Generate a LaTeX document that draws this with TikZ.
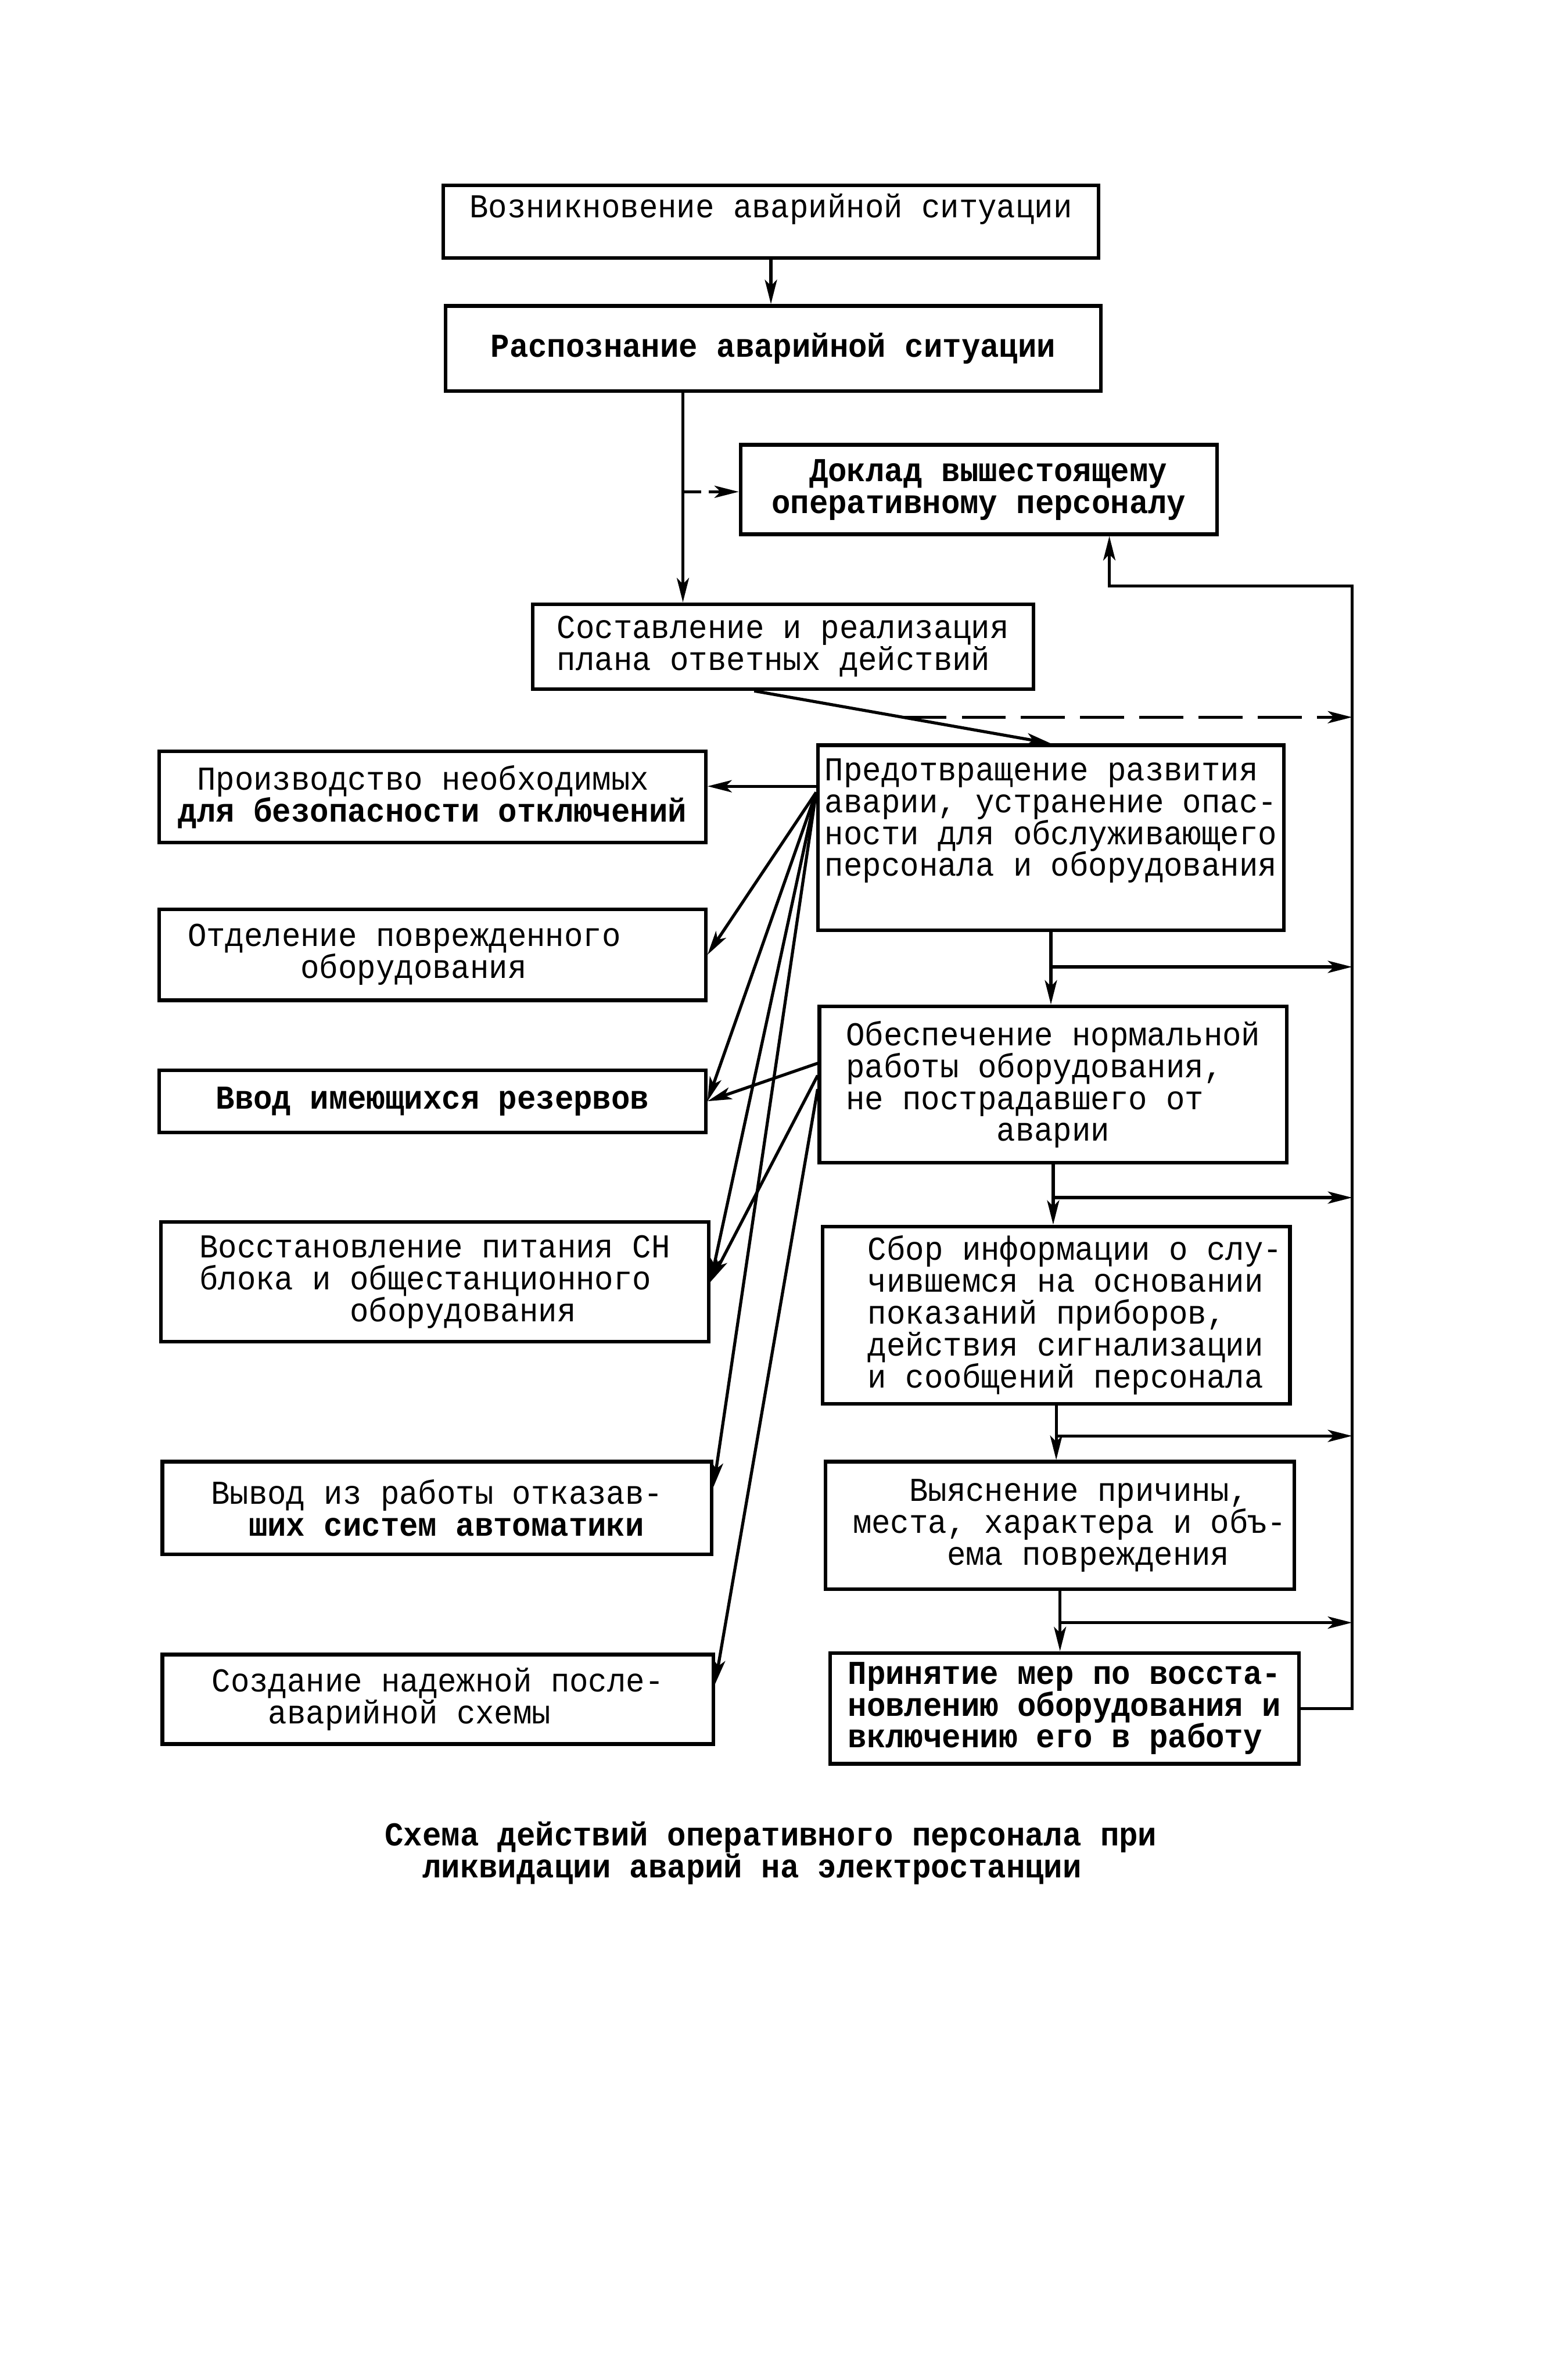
\documentclass[tikz,border=0pt]{standalone}
\usepackage{fontspec}
\newfontfamily\tw[FakeStretch=0.94]{Liberation Mono}
\usetikzlibrary{arrows.meta,calc}
\newcommand\spc{\phantom{0}}
\newcommand\twfont{\tw\fontsize{22}{21}\selectfont\lineskiplimit=-100pt\lineskip=0pt}
\begin{document}
\begin{tikzpicture}[x=1pt,y=-1pt,
  box/.style={draw,line width=2.4pt,inner sep=0pt,align=left,font=\twfont},
  conn/.style={line width=2pt},
  arr/.style={conn,-{Stealth[length=16pt,width=8pt,inset=4pt]}},
  dsh/.style={conn,dash pattern=on 29pt off 10pt,-{Stealth[length=16pt,width=8pt,inset=4pt]}},
]
\useasboundingbox (0,0) rectangle (1024,1568);
\fill[white] (0,0) rectangle (1024,1568);

% top chain
\node[box,minimum width=432pt,minimum height=48pt] (A) at (508,146)
  {Возникновение аварийной ситуации\\\mbox{}};
\node[box,minimum width=432pt,minimum height=56pt] (B) at (509.5,229.5)
  {\bfseries Распознание аварийной ситуации};
\node[box,minimum width=314pt,minimum height=59pt] (C) at (645,322.5)
  {\bfseries\spc\spc Доклад вышестоящему\\\bfseries оперативному персоналу};
\node[box,minimum width=330pt,minimum height=56pt] (D) at (516,426)
  {Составление и реализация\\плана ответных действий};

% right column
\node[box,minimum width=307pt,minimum height=122pt] (E) at (692.5,552)
  {Предотвращение развития\\аварии, устранение опас-\\ности для обслуживающего\\персонала и оборудования\\[6pt]\mbox{}};
\node[box,minimum width=308pt,minimum height=103pt] (F) at (694,714.5)
  {Обеспечение нормальной\\работы оборудования,\\не пострадавшего от\\\spc\spc\spc\spc\spc\spc\spc\spc аварии};
\node[box,minimum width=308pt,minimum height=117pt] (G) at (696,866.5)
  {\spc\spc Сбор информации о слу-\\\spc\spc чившемся на основании\\\spc\spc показаний приборов,\\\spc\spc действия сигнализации\\\spc\spc и сообщений персонала};
\node[box,minimum width=309pt,minimum height=84pt] (H) at (698.5,1005)
  {\spc\spc\spc\spc Выяснение причины,\\\spc места, характера и объ-\\\spc\spc\spc\spc\spc\spc ема повреждения};
\node[box,minimum width=309pt,minimum height=73pt] (I) at (701.5,1125.5)
  {\bfseries Принятие мер по восста-\\\bfseries новлению оборудования и\\\bfseries включению его в работу};

% left column
\node[box,minimum width=360pt,minimum height=60pt] (L1) at (285,525)
  {\spc Производство необходимых\\\bfseries для безопасности отключений};
\node[box,minimum width=360pt,minimum height=60pt] (L2) at (285,629)
  {Отделение поврежденного\spc\spc\spc\\\spc\spc\spc\spc\spc\spc оборудования};
\node[box,minimum width=360pt,minimum height=41pt] (L3) at (285,725.5)
  {\bfseries Ввод имеющихся резервов};
\node[box,minimum width=361pt,minimum height=79pt] (L4) at (286.5,844.5)
  {Восстановление питания СН\\блока и общестанционного\\\spc\spc\spc\spc\spc\spc\spc\spc оборудования};
\node[box,minimum width=362pt,minimum height=61pt] (L5) at (288,993.5)
  {Вывод из работы отказав-\\\bfseries\spc\spc ших систем автоматики};
\node[box,minimum width=363pt,minimum height=59pt] (L6) at (288.5,1119.5)
  {Создание надежной после-\\\spc\spc\spc аварийной схемы};

% caption
\node[font=\twfont,align=left,inner sep=0pt] (caption) at (508,1221)
  {\bfseries Схема действий оперативного персонала при\\\bfseries\spc\spc ликвидации аварий на электростанции};

% coordinates
\coordinate (xl) at (450,0);
\coordinate (cd) at (450,324);
\coordinate (cx) at (731,0);
\coordinate (bt) at (891,386);
\coordinate (r1) at (891,637);
\coordinate (r2) at (891,789);
\coordinate (r3) at (891,946);
\coordinate (r4) at (891,1069);
\coordinate (d1) at ([xshift=-19pt]D.south);
\coordinate (dm) at ($(d1)!0.5!(E.north)$);
\coordinate (eo) at ([yshift=30pt]E.west);
\coordinate (e1) at ([yshift=34pt]E.west);

% top connectors
\draw[arr] (A.south) -- (A.south |- B.north);
\draw[arr] (B.south -| xl) -- (D.north -| xl);
\draw[conn,dash pattern=on 12pt off 5pt on 40pt,-{Stealth[length=16pt,width=8pt,inset=4pt]}] (cd) -- (cd -| C.west);
\draw[arr] (d1) -- (E.north);
\draw[dsh] (dm) -- (dm -| bt);

% right column chain
\draw[arr] (E.south) -- (E.south |- F.north);
\draw[arr] (E.south |- r1) -- (r1);
\draw[arr] (F.south) -- (F.south |- G.north);
\draw[arr] (F.south |- r2) -- (r2);
\draw[arr] (G.south) -- (G.south |- H.north);
\draw[arr] (G.south |- r3) -- (r3);
\draw[arr] (H.south) -- (H.south |- I.north);
\draw[arr] (H.south |- r4) -- (r4);
\draw[arr] (I.east) -| (bt) -- (bt -| cx) -- (C.south -| cx);

% fan from E
\draw[arr] (e1) -- (e1 -| L1.east);
\draw[arr] (eo) -- (L2.east);
\draw[arr] (eo) -- (L3.east);
\draw[arr] (eo) -- (L4.east);
\draw[arr] (eo) -- ([yshift=14pt]L5.east);
% fan from F
\draw[arr] ([yshift=14pt]F.west) -- (L3.east);
\draw[arr] ([yshift=6pt]F.west) -- (L4.east);
\draw[arr] ([yshift=-3pt]F.west) -- ([yshift=10pt]L6.east);
\end{tikzpicture}
\end{document}
